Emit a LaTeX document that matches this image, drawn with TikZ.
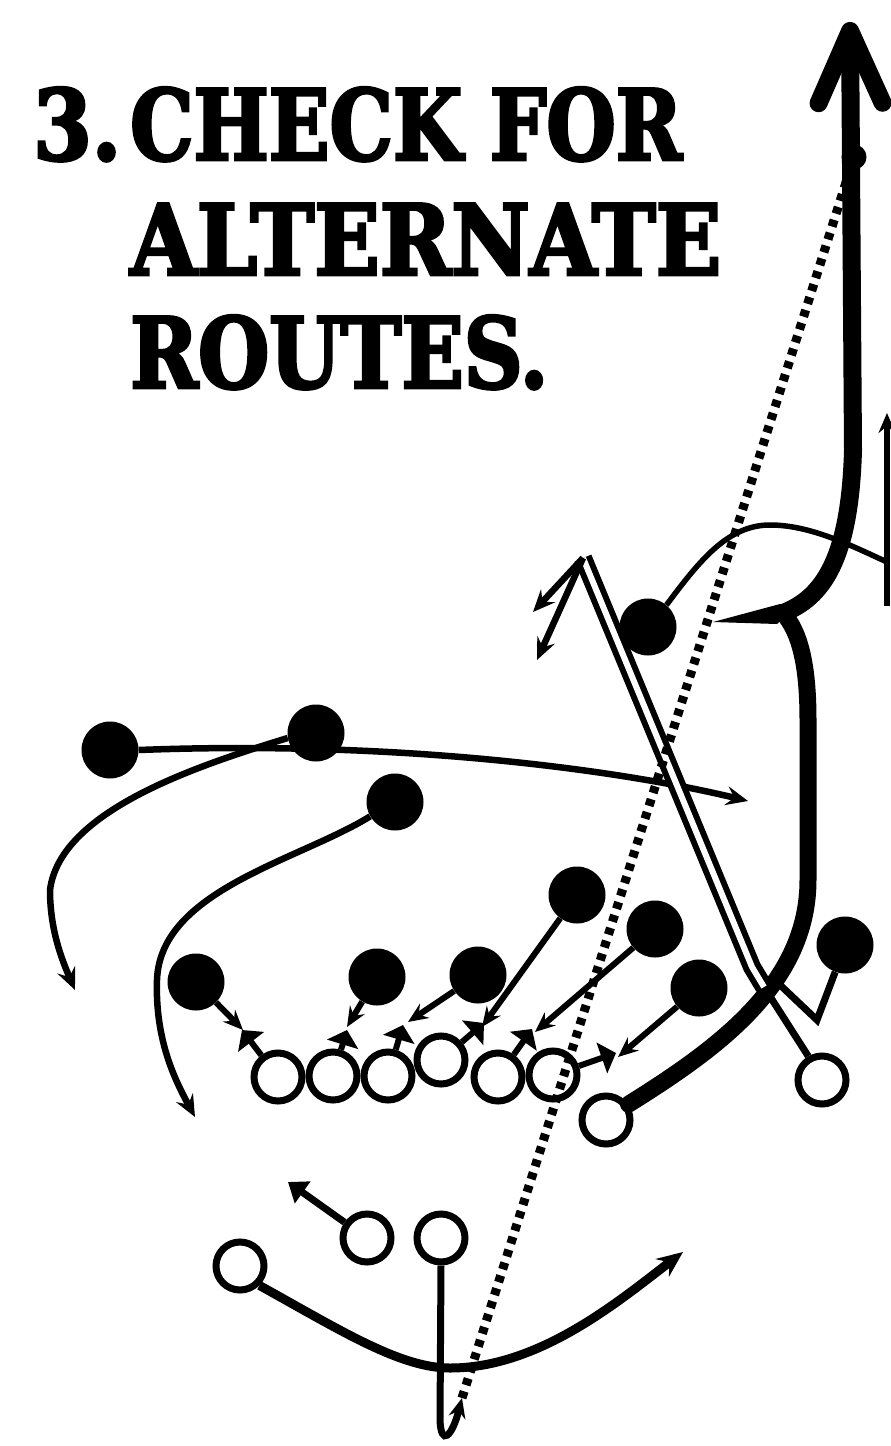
\documentclass[tikz,border=0pt]{standalone}
\usepackage{fontspec}
\usepackage{graphicx}
\usepackage{tikz}
\usetikzlibrary{arrows.meta}
\newfontfamily\titlefont{DejaVu Serif}[FakeStretch=0.86, FakeBold=3]

\begin{document}
\begin{tikzpicture}[x=1pt, y=-1pt,
  dman/.style={circle, fill=black, minimum size=57pt, inner sep=0pt},
  oman/.style={circle, draw=black, line width=7pt, fill=white, minimum size=48pt, inner sep=0pt},
  ball/.style={circle, fill=black, minimum size=25pt, inner sep=0pt},
  title/.style={font=\titlefont\bfseries\fontsize{98pt}{110pt}\selectfont, inner sep=0pt, anchor=base west},
  route/.style={line width=6.5pt, -{Stealth[length=22pt, width=19pt, inset=8pt]}},
  rush/.style={line width=6pt, -{Stealth[length=20pt, width=17pt, inset=7pt]}},
  blk/.style={line width=6pt, -{Triangle[length=15pt, width=32pt]}},
  heavy/.style={line width=17pt, line cap=round},
  deep/.style={line width=18pt, line cap=round, -{Straight Barb[length=72pt, width=64pt, round]}},
  dbl/.style={draw=black, double=white, line width=6pt, double distance=6pt},
  pass/.style={line width=9pt, dash pattern=on 7pt off 6.5pt}
]
  \useasboundingbox (0,0) rectangle (891,1446);

  %% Heading
  \node[title] (num)   at (33,160)  {3.};
  \node[title] (head1) at (130,160) {\scalebox{0.945}[1]{CHECK FOR}};
  \node[title] (head2) at (130,275) {\scalebox{1.02}[1]{ALTERNATE}};
  \node[title] (head3) at (130,388) {\scalebox{0.97}[1]{ROUTES.}};

  %% Defense
  \node[dman] (cb)  at (110,750) {};
  \node[dman] (ss)  at (316,733) {};
  \node[dman] (lb)  at (395,802) {};
  \node[dman] (de)  at (196,982) {};
  \node[dman] (dt)  at (377,977) {};
  \node[dman] (nt)  at (478,975) {};
  \node[dman] (mlb) at (577,895) {};
  \node[dman] (wlb) at (655,929) {};
  \node[dman] (rde) at (699,988) {};
  \node[dman] (ob)  at (845,945) {};
  \node[dman] (fs)  at (648,627) {};

  %% Offense
  \node[oman] (ol1) at (278,1077) {};
  \node[oman] (ol2) at (333,1076) {};
  \node[oman] (ol3) at (388,1076) {};
  \node[oman] (ol4) at (441,1060) {};
  \node[oman] (ol5) at (498,1077) {};
  \node[oman] (ol6) at (553,1075) {};
  \node[oman] (te)  at (606,1120) {};
  \node[oman] (wr)  at (822,1080) {};
  \node[oman] (hb)  at (240,1266) {};
  \node[oman] (fb)  at (367,1238) {};
  \node[oman] (qb)  at (441,1238) {};
  \node[ball] (catch) at (854,157) {};

  %% Free ends of the routes
  \coordinate (cbT) at (748,801);
  \coordinate (ssT) at (75,990);
  \coordinate (lbT) at (195,1117);
  \coordinate (r1) at (243,1030);
  \coordinate (r2) at (347,1027);
  \coordinate (r3) at (408,1022);
  \coordinate (r4) at (482,1027);
  \coordinate (r5) at (535,1032);
  \coordinate (r6) at (618,1057);
  \coordinate (k1) at (242,1030);
  \coordinate (k2) at (347,1030);
  \coordinate (k3) at (403,1025);
  \coordinate (k4) at (484,1023);
  \coordinate (k5) at (532,1029);
  \coordinate (k6) at (616,1053);
  \coordinate (obA) at (817,1020);
  \coordinate (obB) at (779,984);
  \coordinate (fsA) at (887,562);
  \coordinate (postB) at (887,606);
  \coordinate (postT) at (887,413);
  \coordinate (brk) at (783,613);
  \coordinate (deepT) at (850,22);
  \coordinate (knee) at (764,987);
  \coordinate (kneeB) at (752,967);
  \coordinate (stemT) at (583,558);
  \coordinate (optA) at (533,612);
  \coordinate (optB) at (537,660);
  \coordinate (swingT) at (683,1252);
  \coordinate (fbT) at (288,1182);
  \coordinate (throw) at (462,1398);

  %% Coverage drops
  \draw[route] (cb.east) .. controls (400,740) and (620,770) .. (cbT);
  \draw[route] (ss.190) .. controls (200,765) and (60,810) .. (50,890)
                        .. controls (50,930) and (62,960) .. (ssT);
  \draw[route] (lb.210) .. controls (300,860) and (160,890) .. (157,980)
                        .. controls (155,1040) and (175,1080) .. (lbT);
  \draw[line width=5.5pt] (fs.50) .. controls (700,560) and (728,525) .. (770,525)
                          .. controls (810,525) and (850,545) .. (fsA);
  \draw[line width=5.5pt, -{Stealth[length=20pt, width=17pt, inset=7pt]}] (postB) -- (postT);

  %% Rush
  \draw[rush] (de)  -- (r1);
  \draw[rush] (dt)  -- (r2);
  \draw[rush] (nt)  -- (r3);
  \draw[rush] (mlb) -- (r4);
  \draw[rush] (wlb) -- (r5);
  \draw[rush] (rde) -- (r6);
  \draw[line width=7pt, line join=miter] (ob.250) -- (obA) -- (obB);

  %% Line blocks
  \draw[blk] (ol1) -- (k1);
  \draw[blk] (ol2) -- (k2);
  \draw[blk] (ol3) -- (k3);
  \draw[blk] (ol4) -- (k4);
  \draw[blk] (ol5) -- (k5);
  \draw[blk] (ol6) -- (k6);

  %% Tight end: out and up, breaks off the post
  \draw[heavy] (te.35) .. controls (715,1050) and (808,985) .. (808,880)
               -- (808,720) .. controls (808,665) and (800,632) .. (brk);
  \fill (713,622) -- (780,604) -- (790,612) -- (777,624) -- cycle;
  \draw[deep] (brk) .. controls (822,598) and (850,560) .. (853,450) -- (deepT);

  %% Receiver: back inside, then option release
  \draw[line width=7pt] (wr.120) -- (knee);
  \draw[dbl] (knee) -- (kneeB) -- (stemT);
  \draw[route] (stemT) -- (optA);
  \draw[route] (stemT) -- (optB);

  %% Backfield
  \draw[line width=9pt, -{Stealth[length=26pt, width=22pt, inset=9pt]}]
    (hb.south east) .. controls (340,1330) and (400,1368) .. (450,1368)
                    .. controls (540,1368) and (620,1300) .. (swingT);
  \draw[line width=7pt, -{Triangle[length=18pt, width=26pt]}] (fb.145) -- (fbT);
  \draw[line width=7pt, -{Stealth[length=20pt, width=17pt, inset=7pt]}]
    (qb.south) -- (440,1420) .. controls (441,1447) and (452,1437) .. (throw);

  %% Pass
  \draw[pass] (throw) -- (catch);
\end{tikzpicture}
\end{document}
